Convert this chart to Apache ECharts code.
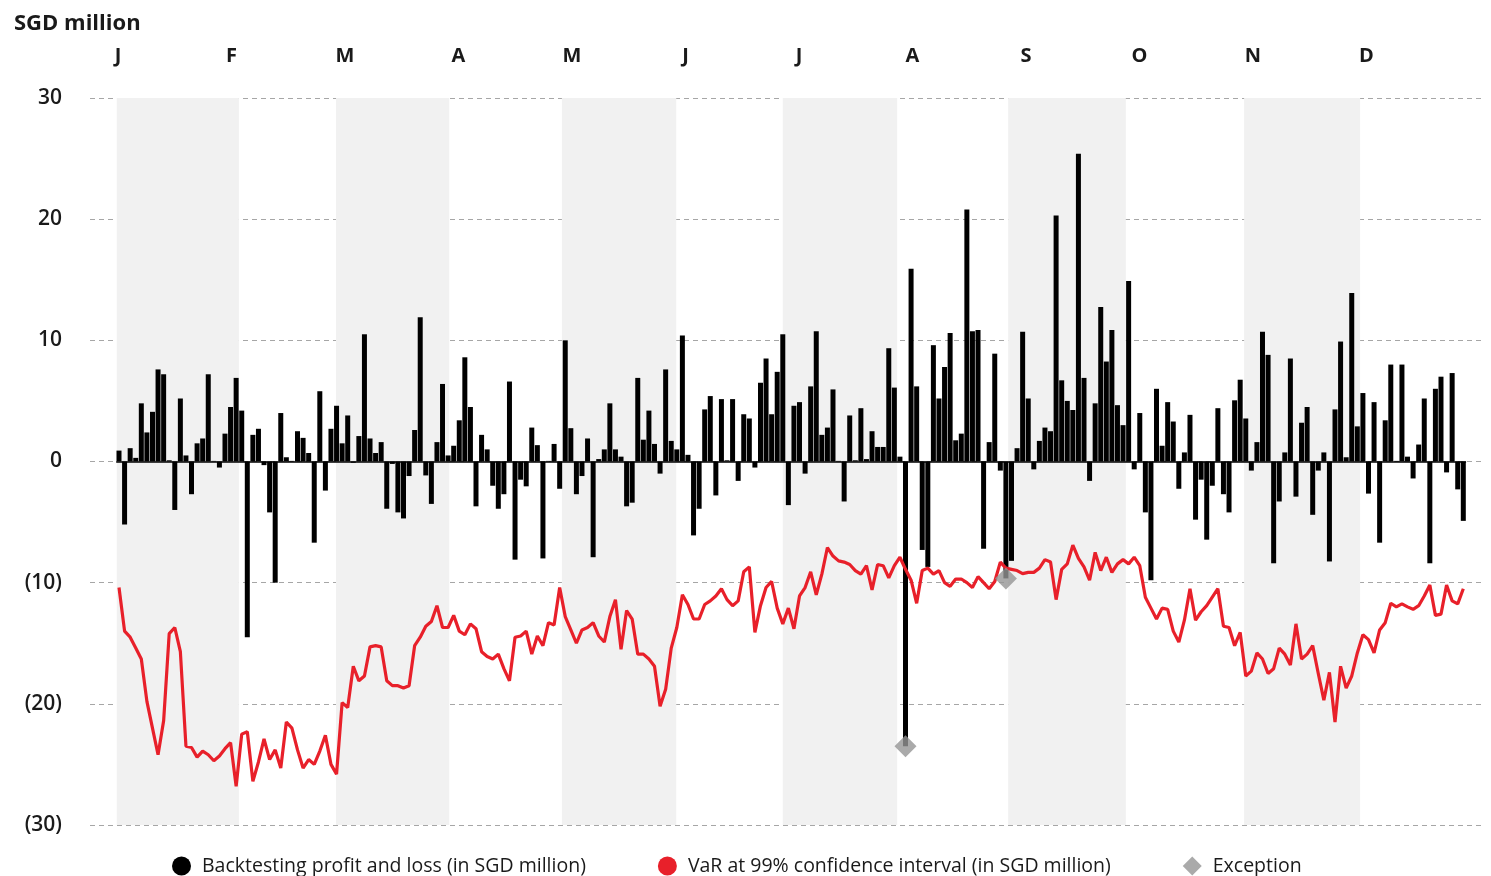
<!DOCTYPE html>
<html>
<head>
<meta charset="utf-8">
<script src="https://cdn.jsdelivr.net/npm/echarts@6/dist/echarts.min.js"></script>
<style>
  html, body { margin: 0; padding: 0; background: #fff; }
  #chart { width: 1491px; height: 876px; }
</style>
</head>
<body>
<div id="chart"></div>
<script>
const months = ["J", "F", "M", "A", "M", "J", "J", "A", "S", "O", "N", "D"];

// shaded month bands, in trading-day index units (Jan, Mar, May, Jul, Sep, Nov)
const bandStarts = [-0.4, 38.9, 79.4, 119.0, 159.4, 201.7];
const bandEnds = [21.5, 59.2, 99.9, 139.5, 180.5, 222.5];

// daily backtesting P&L (SGD million)
const pnl = [
  0.9, -5.2, 1.1, 0.3, 4.8, 2.4, 4.1, 7.6, 7.2, 0.1, -4.0, 5.2, 0.5, -2.7, 1.5, 1.9, 7.2, 0.05, -0.5, 2.3,
  4.5, 6.9, 4.2, -14.5, 2.2, 2.7, -0.3, -4.2, -10.0, 4.0, 0.35, 0.05, 2.5, 1.95, 0.7, -6.7, 5.8, -2.4, 2.7, 4.6,
  1.5, 3.8, -0.1, 2.1, 10.5, 1.9, 0.7, 1.6, -3.9, -0.2, -4.2, -4.7, -1.2, 2.6, 11.9, -1.15, -3.5, 1.6, 6.4, 0.5,
  1.3, 3.4, 8.6, 4.5, -3.7, 2.2, 1.0, -2.0, -3.9, -2.7, 6.6, -8.1, -1.5, -2.05, 2.8, 1.35, -8.0, 0.05, 1.45, -2.25,
  10.0, 2.75, -2.7, -1.2, 1.9, -7.9, 0.2, 1.0, 4.8, 1.0, 0.4, -3.7, -3.4, 6.9, 1.8, 4.2, 1.45, -1.0, 7.6, 1.7,
  1.0, 10.4, 0.55, -6.1, -3.9, 4.3, 5.4, -2.8, 5.15, 0.1, 5.15, -1.6, 3.9, 3.55, -0.5, 6.5, 8.5, 3.9, 7.4, 10.5,
  -3.6, 4.6, 4.9, -1.0, 6.2, 10.75, 2.2, 2.8, 5.95, 0.05, -3.3, 3.8, 0.1, 4.4, 0.2, 2.5, 1.2, 1.2, 9.35, 6.1,
  0.4, -23.5, 15.9, 6.2, -7.3, -8.7, 9.6, 5.2, 7.8, 10.6, 1.75, 2.3, 20.8, 10.75, 10.85, -7.2, 1.6, 8.9, -0.75, -9.65,
  -8.2, 1.1, 10.7, 5.2, -0.65, 1.7, 2.8, 2.5, 20.3, 6.7, 5.0, 4.25, 25.4, 6.9, -1.6, 4.8, 12.75, 8.25, 10.85, 4.65,
  3.0, 14.9, -0.65, 4.0, -4.2, -9.8, 6.0, 1.3, 4.9, 3.3, -2.25, 0.75, 3.85, -4.8, -1.5, -6.45, -2.0, 4.4, -2.7, -4.2,
  5.05, 6.75, 3.55, -0.75, 1.6, 10.7, 8.8, -8.4, -3.3, 0.75, 8.5, -2.9, 3.2, 4.5, -4.4, -0.75, 0.75, -8.25, 4.3, 9.9,
  0.35, 13.9, 2.9, 5.65, -2.65, 4.9, -6.7, 3.4, 8.0, 0.05, 8.0, 0.4, -1.4, 1.4, 5.2, -8.4, 6.0, 7.0, -0.9, 7.3,
  -2.3, -4.9
];

// VaR at 99% (SGD million)
const varLine = [
  -10.4, -14.0, -14.5, -15.4, -16.3, -19.8, -22.0, -24.2, -21.4, -14.2, -13.7, -15.7, -23.5, -23.6, -24.4, -23.9, -24.2, -24.7, -24.3, -23.7,
  -23.2, -26.8, -22.5, -22.3, -26.4, -24.8, -22.9, -24.6, -23.8, -25.3, -21.5, -22.0, -23.8, -25.3, -24.6, -25.0, -23.9, -22.6, -25.0, -25.8,
  -19.9, -20.3, -16.9, -18.1, -17.7, -15.3, -15.2, -15.3, -18.1, -18.5, -18.5, -18.7, -18.5, -15.2, -14.5, -13.6, -13.2, -11.9, -13.7, -13.7,
  -12.7, -14.0, -14.3, -13.4, -13.8, -15.7, -16.1, -16.3, -15.9, -17.1, -18.1, -14.5, -14.4, -14.0, -15.9, -14.4, -15.2, -13.3, -13.5, -10.4,
  -12.8, -13.9, -15.0, -13.9, -13.7, -13.3, -14.4, -14.9, -12.8, -11.4, -15.5, -12.3, -13.0, -15.9, -15.9, -16.3, -16.9, -20.2, -18.8, -15.4,
  -13.7, -11.0, -11.8, -13.0, -13.0, -11.8, -11.5, -11.1, -10.5, -11.4, -11.9, -11.5, -9.1, -8.7, -14.1, -11.9, -10.4, -9.9, -12.1, -13.4,
  -12.1, -13.8, -11.1, -10.4, -9.1, -11.0, -9.3, -7.1, -7.8, -8.2, -8.3, -8.5, -9.0, -9.3, -8.6, -10.6, -8.5, -8.6, -9.6, -8.6,
  -7.9, -8.9, -9.8, -11.7, -9.0, -8.8, -9.3, -9.0, -10.0, -10.3, -9.7, -9.7, -10.0, -10.4, -9.5, -10.0, -10.5, -9.9, -8.3, -8.8,
  -8.9, -9.0, -9.25, -9.15, -9.15, -8.8, -8.1, -8.3, -11.4, -8.9, -8.45, -6.9, -8.0, -8.7, -9.8, -7.5, -9.0, -7.9, -9.15, -8.45,
  -8.1, -8.45, -7.9, -8.6, -11.2, -12.1, -13.0, -12.1, -12.2, -14.0, -14.9, -13.1, -10.5, -13.1, -12.4, -11.9, -11.2, -10.5, -13.6, -13.7,
  -15.2, -14.1, -17.7, -17.3, -15.8, -16.3, -17.5, -17.1, -15.4, -15.9, -16.8, -13.4, -16.3, -15.9, -15.2, -17.5, -19.7, -17.4, -21.5, -16.9,
  -18.7, -17.7, -15.8, -14.3, -14.7, -15.8, -13.9, -13.3, -11.7, -12.0, -11.75, -12.0, -12.2, -11.9, -11.1, -10.2, -12.7, -12.6, -10.2, -11.5,
  -11.75, -10.5
];

// exception days: [day index, loss]
const exceptions = [[141, -23.5], [159, -9.65]];

const FONT = "'Open Sans', 'Noto Sans', sans-serif";
const NAME_PNL = "Backtesting profit and loss (in SGD million)";
const NAME_VAR = "VaR at 99% confidence interval (in SGD million)";
const NAME_EXC = "Exception";

const chart = echarts.init(document.getElementById("chart"));

const n = pnl.length;
const option = {
  animation: false,
  textStyle: { fontFamily: FONT },
  title: {
    text: "SGD million",
    left: 9,
    top: 8,
    textStyle: { fontFamily: FONT, fontSize: 22, fontWeight: "bold", color: "#1a1a1a" }
  },
  legend: {
    top: 851,
    left: 167,
    itemWidth: 19,
    itemHeight: 19,
    itemGap: 72,
    textStyle: { fontFamily: FONT, fontSize: 19.5, color: "#1a1a1a", padding: [0, 0, 0, 6] },
    data: [
      { name: NAME_PNL, icon: "circle" },
      { name: NAME_VAR, icon: "circle" },
      { name: NAME_EXC, icon: "diamond" }
    ]
  },
  grid: [
    { left: 90, right: 6, top: 98, bottom: 51 },
    { left: 118, right: 11, top: 72, height: 10 }
  ],
  xAxis: [
    {
      type: "value",
      gridIndex: 0,
      min: -5.2,
      max: 244.89,
      show: false
    },
    {
      type: "value",
      gridIndex: 1,
      position: "top",
      min: 0,
      max: 12,
      interval: 1,
      axisLine: { show: false },
      axisTick: { show: false },
      splitLine: { show: false },
      axisLabel: {
        margin: 6,
        fontFamily: FONT,
        fontSize: 20,
        fontWeight: "bold",
        color: "#1a1a1a",
        formatter: (v) => months[v] || ""
      }
    }
  ],
  yAxis: [
    {
      type: "value",
      gridIndex: 0,
      min: -30,
      max: 30,
      interval: 10,
      z: 1,
      axisLine: { show: false },
      axisTick: { show: false },
      splitLine: { lineStyle: { color: "#a6a6a6", type: [5, 4], width: 1 } },
      axisLabel: {
        margin: 28,
        fontFamily: FONT,
        fontSize: 21,
        fontWeight: 600,
        color: "#1a1a1a",
        formatter: (v) => (v < 0 ? "(" + -v + ")" : String(v))
      }
    },
    { type: "value", gridIndex: 1, show: false, min: 0, max: 1 }
  ],
  series: [
    {
      name: "bands",
      type: "line",
      data: [],
      z: -1,
      silent: true,
      markArea: {
        silent: true,
        itemStyle: { color: "#f1f1f1" },
        data: bandStarts.map((s, i) => [
          { xAxis: s, yAxis: 30 },
          { xAxis: bandEnds[i], yAxis: -30 }
        ])
      }
    },
    {
      name: NAME_PNL,
      type: "bar",
      barWidth: 5,
      itemStyle: { color: "#000" },
      data: pnl.map((v, i) => [i, v]),
      markLine: {
        silent: true,
        symbol: "none",
        label: { show: false },
        lineStyle: { color: "#000", type: "solid", width: 1.5 },
        data: [[{ coord: [-0.5, 0] }, { coord: [n - 0.5, 0] }]]
      }
    },
    {
      name: NAME_VAR,
      type: "line",
      showSymbol: false,
      symbol: "none",
      lineStyle: { color: "#e8202a", width: 3.2 },
      itemStyle: { color: "#e8202a" },
      data: varLine.map((v, i) => [i, v]),
      z: 3
    },
    {
      name: NAME_EXC,
      type: "scatter",
      symbol: "diamond",
      symbolSize: [22, 22],
      itemStyle: { color: "#959595" },
      data: exceptions,
      z: 4
    }
  ]
};

chart.setOption(option);
</script>
</body>
</html>
